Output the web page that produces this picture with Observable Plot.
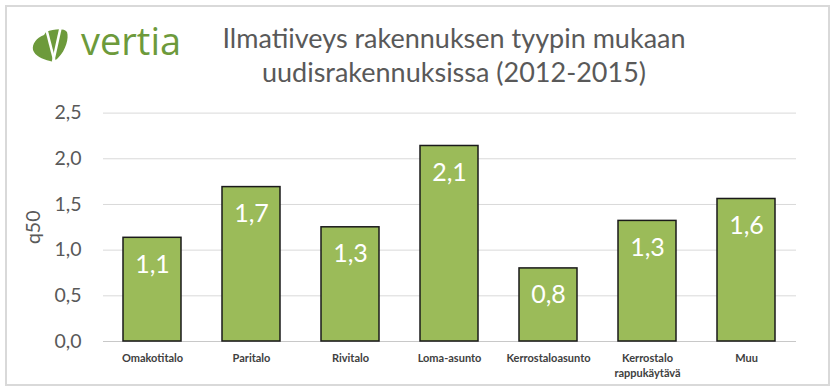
<!DOCTYPE html>
<html><head><meta charset="utf-8">
<script src="https://cdn.jsdelivr.net/npm/d3@7"></script>
<script src="https://cdn.jsdelivr.net/npm/@observablehq/plot@0.6"></script>
<style>
body{margin:0;background:#fff;}
#wrap{position:relative;width:834px;height:390px;overflow:hidden;font-family:Lato,sans-serif;background:#fff;}
#chart{position:absolute;left:0;top:0;}
#frame{position:absolute;left:5px;top:5px;width:825px;height:381px;box-sizing:border-box;border:2px solid #d9d9d9;pointer-events:none;}
#logo{position:absolute;left:32px;top:28px;}
#brand{position:absolute;left:81px;top:14px;font-family:"Open Sans",sans-serif;font-size:38px;line-height:normal;color:#6d9a3b;}
#title{position:absolute;left:154px;width:600px;top:21px;text-align:center;color:#595959;font-family:Lato,sans-serif;font-size:27px;line-height:34px;}
</style></head>
<body>
<div id="wrap">
  <div id="chart"></div>
  <div id="frame"></div>
  <svg id="logo" width="38" height="36" viewBox="0 0 38 36">
    <path d="M1,22 C0,16 4,10 12,7 L14,4 C22,1 32,0 35,4 C37,10 34,22 26,30 C23,33 20,34 18,33 C10,31 3,28 1,22 Z" fill="#6d9a3b"/>
    <line x1="14.5" y1="2" x2="23" y2="35" stroke="#fff" stroke-width="2.6"/>
    <line x1="28.5" y1="0" x2="21" y2="34" stroke="#fff" stroke-width="2.6"/>
  </svg>
  <div id="brand">vertia</div>
  <div id="title">Ilmatiiveys rakennuksen tyypin mukaan<br>uudisrakennuksissa (2012-2015)</div>
</div>
<script>
const categories = ["Omakotitalo","Paritalo","Rivitalo","Loma-asunto","Kerrostaloasunto","Kerrostalo rappukäytävä","Muu"];
const tickLabels = ["Omakotitalo","Paritalo","Rivitalo","Loma-asunto","Kerrostaloasunto","Kerrostalo\nrappukäytävä","Muu"];
const values = [1.135,1.69,1.25,2.14,0.80,1.32,1.56];
const valueLabels = ["1,1","1,7","1,3","2,1","0,8","1,3","1,6"];
const yTicks = [0,0.5,1,1.5,2,2.5];
const yTickLabels = ["0,0","0,5","1,0","1,5","2,0","2,5"];

const data = categories.map((c,i)=>({category:c, value:values[i], label:valueLabels[i]}));

const chart = Plot.plot({
  width:834, height:390,
  marginLeft:103, marginRight:38, marginTop:112.6, marginBottom:49,
  style:{fontFamily:"Lato, sans-serif", background:"transparent", overflow:"visible"},
  x:{domain:categories, paddingInner:0.41, paddingOuter:0.205, axis:null},
  y:{domain:[0,2.5], axis:null},
  marks:[
    Plot.gridY(yTicks,{stroke:"#d9d9d9", strokeOpacity:1, strokeWidth:1}),
    Plot.ruleY([0],{stroke:"#c8c8c8", strokeWidth:1.2}),
    Plot.barY(data,{x:"category", y:"value", fill:"#9bbb59", stroke:"#1a1a1a", strokeWidth:1.5}),
    Plot.text(data,{x:"category", y:"value", text:"label", fill:"white", fontSize:25, lineAnchor:"top", dy:17}),
    Plot.axisY({ticks:yTicks, tickFormat:d=>yTickLabels[yTicks.indexOf(d)], tickSize:0, tickPadding:22, fontSize:19.5, color:"#595959", label:"q50", labelAnchor:"center", labelArrow:"none", labelOffset:77}),
    Plot.axisX({tickSize:0, tickPadding:10, tickFormat:d=>tickLabels[categories.indexOf(d)], fontSize:11, fontWeight:"bold", color:"#404040", lineHeight:1.36, label:null})
  ]
});
document.getElementById("chart").appendChild(chart);
</script>
</body></html>
